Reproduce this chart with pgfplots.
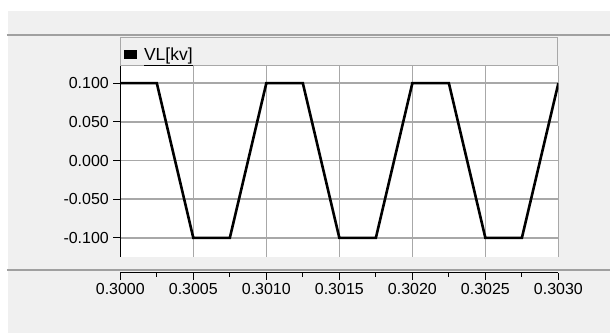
\documentclass[border=0pt]{standalone}
\usepackage{pgfplots}
\pgfplotsset{compat=1.18}
\usepackage{fontspec}
\setmainfont{Liberation Sans}
\definecolor{bg}{HTML}{F0F0F0}
\definecolor{sep}{HTML}{A0A0A0}
\definecolor{gridc}{HTML}{A8A8A8}
\begin{document}
\begin{tikzpicture}[x=1pt,y=1pt]
\fill[white] (0,0) rectangle (611,334);
\fill[bg] (8,0) rectangle (611,323);
\draw[sep, line width=2pt] (7,299) -- (611,299);
\draw[sep, line width=2pt] (7,63.3) -- (611,63.3);
\draw[fill=bg, draw=gridc, line width=1pt] (121,268) rectangle (558.8,296);

\begin{axis}[
  at={(120.5pt,77pt)}, anchor=south west,
  scale only axis, width=438.8pt, height=191pt,
  xmin=0.3, xmax=0.303, ymin=-0.1241, ymax=0.1223,
  scaled x ticks=false, scaled y ticks=false,
  axis background/.style={fill=white},
  axis x line*=bottom, axis y line*=left,
  x axis line style={draw=none},
  y axis line style={black, line width=1.5pt},
  xtick={0.3,0.3005,0.301,0.3015,0.302,0.3025,0.303},
  xticklabels={},
  xtick style={draw=none},
  ytick={-0.1,-0.05,0,0.05,0.1},
  yticklabels={\mbox{-0.100},\mbox{-0.050},\mbox{0.000},\mbox{0.050},\mbox{0.100}},
  ytick style={black, line width=1pt},
  tick align=outside, major tick length=7pt,
  yticklabel style={font=\fontsize{16}{16}\selectfont, xshift=-1pt},
  grid=major,
  major grid style={gridc, line width=1.5pt},
  legend style={at={(axis description cs:0,1)}, anchor=south west, draw=none, fill=none,
    font=\fontsize{17.5}{17.5}\selectfont, inner sep=1pt, xshift=3pt, yshift=1pt},
  legend image code/.code={\fill[black] (0pt,-3.5pt) rectangle (10pt,3.5pt);},
]
\addplot[black, line width=2.6pt, mark=none] coordinates {
(0.3,0.1) (0.30025,0.1) (0.3005,-0.1) (0.30075,-0.1) (0.301,0.1)
(0.30125,0.1) (0.3015,-0.1) (0.30175,-0.1) (0.302,0.1)
(0.30225,0.1) (0.3025,-0.1) (0.30275,-0.1) (0.303,0.1)};
\addlegendentry{\hspace{5pt}\underline{VL[kv]}}
\end{axis}

\begin{axis}[
  at={(120.5pt,61pt)}, anchor=south west,
  scale only axis, width=438.8pt, height=10pt,
  xmin=0.3, xmax=0.303, ymin=0, ymax=1,
  scaled x ticks=false,
  axis x line*=bottom, axis y line=none,
  x axis line style={black, line width=1.5pt},
  xtick={0.3,0.3005,0.301,0.3015,0.302,0.3025,0.303},
  xticklabels={\mbox{0.3000},\mbox{0.3005},\mbox{0.3010},\mbox{0.3015},\mbox{0.3020},\mbox{0.3025},\mbox{0.3030}},
  minor xtick={0.30025,0.30075,0.30125,0.30175,0.30225,0.30275},
  xtick style={black, line width=1pt},
  tick align=outside, major tick length=7pt, minor tick length=4pt,
  xticklabel style={font=\fontsize{16}{16}\selectfont},
]
\end{axis}
\end{tikzpicture}
\end{document}
